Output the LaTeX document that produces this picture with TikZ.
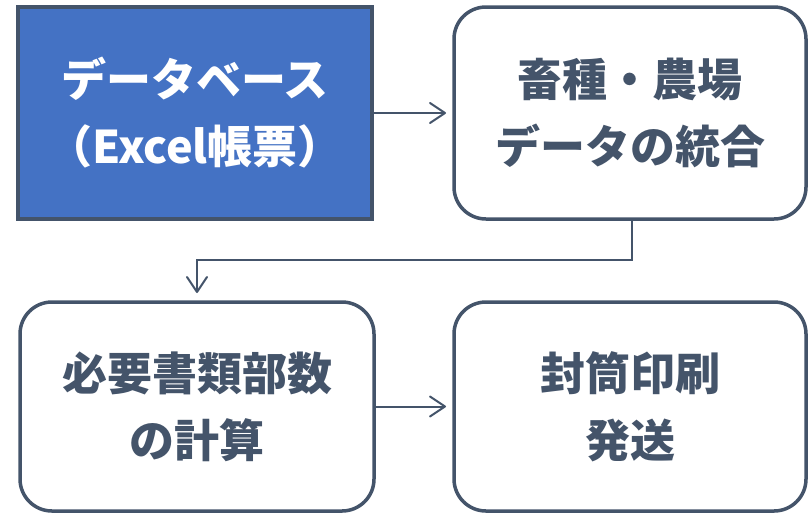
\documentclass[tikz,border=0pt]{standalone}
\usepackage{fontspec}
\setmainfont{Noto Sans CJK JP}
\usetikzlibrary{arrows.meta}
\definecolor{slate}{HTML}{44546A}
\definecolor{blu}{HTML}{4472C4}
\begin{document}
\begin{tikzpicture}[x=1pt,y=-1pt,
  box/.style={draw=slate, line width=3.5pt, inner sep=0pt, outer sep=0pt, align=center,
    font=\fontsize{45}{67}\selectfont\bfseries, text=slate},
  rbox/.style={box, rounded corners=32pt, fill=white},
  arr/.style={draw=slate, line width=2pt, line cap=round,
    -{Straight Barb[length=15pt,width=20pt,round]}}]
\useasboundingbox (0,0) rectangle (808,515);
\node[box, fill=blu, text=white, minimum width=354pt, minimum height=212pt] (b1) at (195,113)
  {データベース\\（Excel帳票）};
\node[rbox, minimum width=352pt, minimum height=212pt] (b2) at (630,113)
  {畜種・農場\\データの統合};
\node[rbox, minimum width=354pt, minimum height=209pt] (b3) at (197,406.5)
  {必要書類部数\\の計算};
\node[rbox, minimum width=352pt, minimum height=209pt] (b4) at (630,406.5)
  {封筒印刷\\発送};
\draw[arr] (b1.east) -- ([xshift=-8pt]b2.west);
\draw[arr] ([xshift=2pt]b2.south) -- ++(0,41) -| ([yshift=9pt]b3.north);
\draw[arr] (b3.east) -- ([xshift=-8pt]b4.west);
\end{tikzpicture}
\end{document}
